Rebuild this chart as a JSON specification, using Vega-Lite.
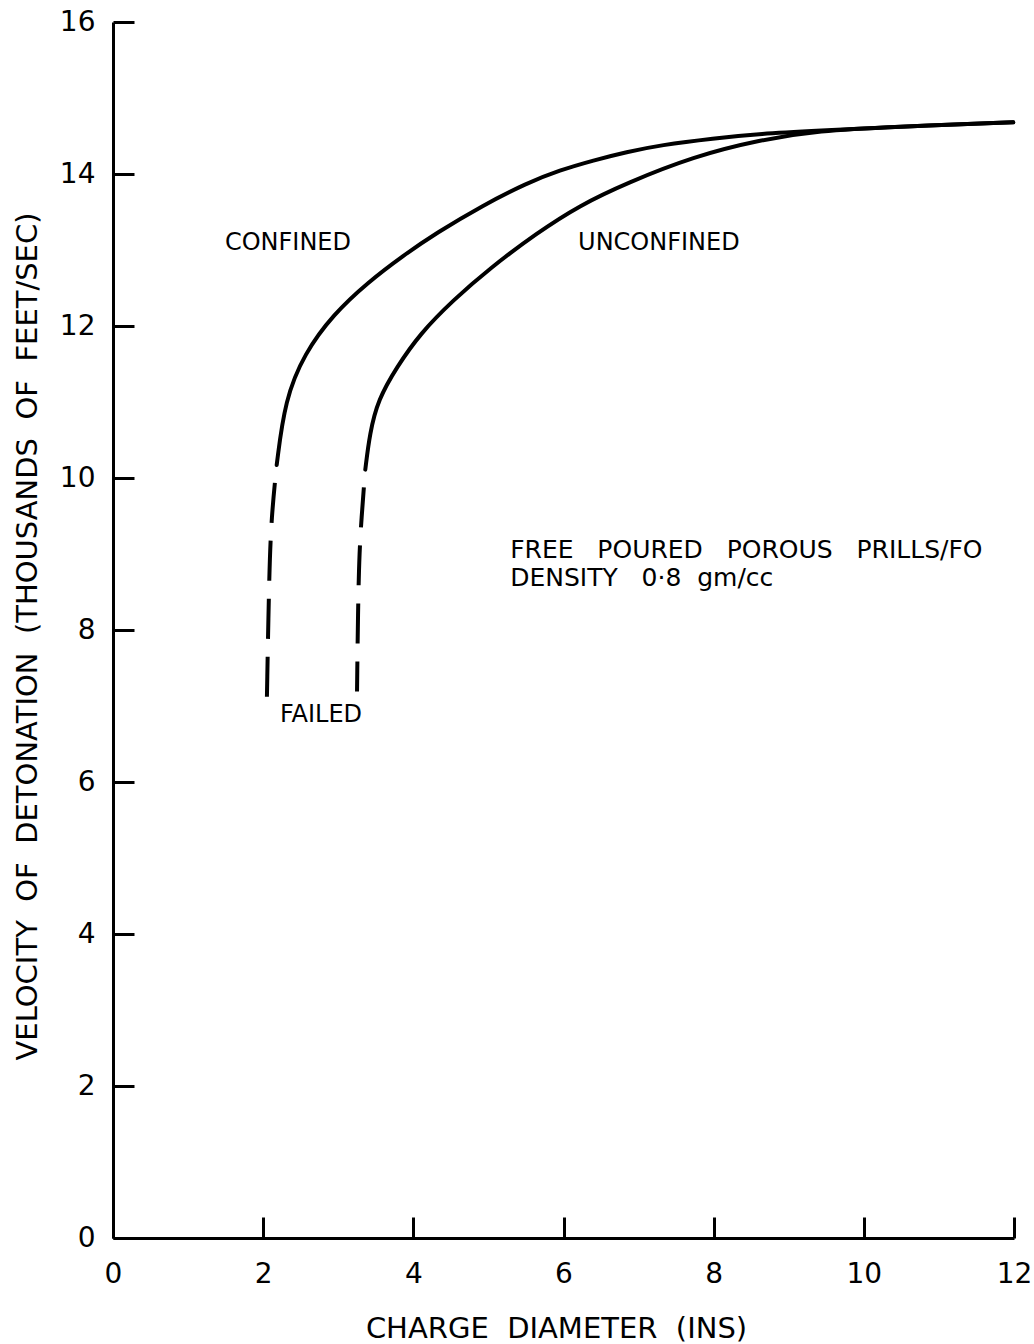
{
  "$schema": "https://vega.github.io/schema/vega-lite/v6.json",
  "autosize": {"type": "none"},
  "padding": {"left": 113, "top": 22, "right": 20, "bottom": 106},
  "width": 901,
  "height": 1216,
  "background": "white",
  "config": {
    "view": {"stroke": null},
    "font": "DejaVu Sans",
    "axis": {
      "domainColor": "black",
      "domainWidth": 3,
      "tickColor": "black",
      "tickWidth": 3,
      "tickSize": -21,
      "grid": false,
      "labelFlush": false,
      "labelOverlap": false,
      "labelColor": "black",
      "labelFont": "DejaVu Sans",
      "labelFontSize": 28,
      "titleColor": "black",
      "titleFont": "DejaVu Sans",
      "titleFontSize": 29,
      "titleFontWeight": "normal"
    }
  },
  "datasets": {
    "curves": [
      {"series": "Confined", "part": "solid", "x": 2.18, "y": 10.17},
      {"series": "Confined", "part": "solid", "x": 2.29, "y": 11.03},
      {"series": "Confined", "part": "solid", "x": 2.55, "y": 11.64},
      {"series": "Confined", "part": "solid", "x": 2.93, "y": 12.15},
      {"series": "Confined", "part": "solid", "x": 3.4, "y": 12.58},
      {"series": "Confined", "part": "solid", "x": 3.87, "y": 12.93},
      {"series": "Confined", "part": "solid", "x": 4.3, "y": 13.22},
      {"series": "Confined", "part": "solid", "x": 4.93, "y": 13.59},
      {"series": "Confined", "part": "solid", "x": 5.51, "y": 13.88},
      {"series": "Confined", "part": "solid", "x": 5.95, "y": 14.05},
      {"series": "Confined", "part": "solid", "x": 6.4, "y": 14.18},
      {"series": "Confined", "part": "solid", "x": 6.84, "y": 14.29},
      {"series": "Confined", "part": "solid", "x": 7.29, "y": 14.38},
      {"series": "Confined", "part": "solid", "x": 8.0, "y": 14.47},
      {"series": "Confined", "part": "solid", "x": 8.62, "y": 14.53},
      {"series": "Confined", "part": "solid", "x": 9.4, "y": 14.57},
      {"series": "Confined", "part": "solid", "x": 10.39, "y": 14.62},
      {"series": "Confined", "part": "solid", "x": 11.99, "y": 14.68},
      {"series": "Unconfined", "part": "solid", "x": 3.36, "y": 10.11},
      {"series": "Unconfined", "part": "solid", "x": 3.42, "y": 10.59},
      {"series": "Unconfined", "part": "solid", "x": 3.53, "y": 11.03},
      {"series": "Unconfined", "part": "solid", "x": 3.78, "y": 11.46},
      {"series": "Unconfined", "part": "solid", "x": 4.09, "y": 11.9},
      {"series": "Unconfined", "part": "solid", "x": 4.53, "y": 12.34},
      {"series": "Unconfined", "part": "solid", "x": 5.02, "y": 12.76},
      {"series": "Unconfined", "part": "solid", "x": 5.64, "y": 13.22},
      {"series": "Unconfined", "part": "solid", "x": 6.22, "y": 13.59},
      {"series": "Unconfined", "part": "solid", "x": 6.84, "y": 13.88},
      {"series": "Unconfined", "part": "solid", "x": 7.73, "y": 14.23},
      {"series": "Unconfined", "part": "solid", "x": 8.62, "y": 14.45},
      {"series": "Unconfined", "part": "solid", "x": 9.4, "y": 14.57},
      {"series": "Unconfined", "part": "solid", "x": 10.39, "y": 14.62},
      {"series": "Unconfined", "part": "solid", "x": 11.99, "y": 14.68},
      {"series": "Confined", "part": "failed", "x": 2.18, "y": 10.17},
      {"series": "Confined", "part": "failed", "x": 2.11, "y": 9.49},
      {"series": "Confined", "part": "failed", "x": 2.08, "y": 8.74},
      {"series": "Confined", "part": "failed", "x": 2.05, "y": 7.12},
      {"series": "Unconfined", "part": "failed", "x": 3.36, "y": 10.11},
      {"series": "Unconfined", "part": "failed", "x": 3.31, "y": 9.49},
      {"series": "Unconfined", "part": "failed", "x": 3.27, "y": 8.83},
      {"series": "Unconfined", "part": "failed", "x": 3.25, "y": 7.19}
    ],
    "labels": [
      {"label": "CONFINED", "x": 2.33, "y": 13.09},
      {"label": "UNCONFINED", "x": 7.27, "y": 13.09},
      {"label": "FAILED", "x": 2.77, "y": 6.88}
    ],
    "note": [
      {"label": "FREE \u00a0\u00a0POURED \u00a0\u00a0POROUS \u00a0\u00a0PRILLS/FO", "x": 5.29, "y": 9.05},
      {"label": "DENSITY \u00a0\u00a00·8 \u00a0gm/cc", "x": 5.29, "y": 8.68}
    ]
  },
  "encoding": {
    "x": {
      "field": "x",
      "type": "quantitative",
      "scale": {"domain": [0, 12], "nice": false, "zero": false},
      "axis": {
        "values": [0, 2, 4, 6, 8, 10, 12],
        "title": "CHARGE \u00a0DIAMETER \u00a0(INS)",
        "labelPadding": 43,
        "labelBaseline": "top",
        "titleX": 443,
        "titleY": 99,
        "titleBaseline": "alphabetic",
        "titleAnchor": "middle",
        "titleAlign": "center"
      }
    },
    "y": {
      "field": "y",
      "type": "quantitative",
      "scale": {"domain": [0, 16], "nice": false, "zero": false},
      "axis": {
        "values": [0, 2, 4, 6, 8, 10, 12, 14, 16],
        "title": "VELOCITY \u00a0OF \u00a0DETONATION \u00a0(THOUSANDS \u00a0OF \u00a0FEET/SEC)",
        "labelPadding": 39,
        "titleX": -86,
        "titleY": 614,
        "titleBaseline": "middle"
      }
    }
  },
  "layer": [
    {
      "data": {"name": "curves"},
      "transform": [{"filter": "datum.part === 'solid'"}],
      "mark": {"type": "line", "color": "black", "strokeWidth": 4, "interpolate": "basis", "strokeCap": "round"},
      "encoding": {"detail": {"field": "series"}}
    },
    {
      "data": {"name": "curves"},
      "transform": [{"filter": "datum.part === 'failed'"}],
      "mark": {"type": "line", "color": "black", "strokeWidth": 4, "interpolate": "basis", "strokeDash": [40, 18], "strokeDashOffset": 40, "strokeCap": "butt"},
      "encoding": {
        "detail": {"field": "series"},
        "order": {"field": "y", "sort": "descending"}
      }
    },
    {
      "data": {"name": "labels"},
      "mark": {"type": "text", "color": "black", "fontSize": 24, "align": "center", "baseline": "middle", "font": "DejaVu Sans"},
      "encoding": {"text": {"field": "label"}}
    },
    {
      "data": {"name": "note"},
      "mark": {"type": "text", "color": "black", "fontSize": 25, "align": "left", "baseline": "middle", "font": "DejaVu Sans"},
      "encoding": {"text": {"field": "label"}}
    }
  ]
}
